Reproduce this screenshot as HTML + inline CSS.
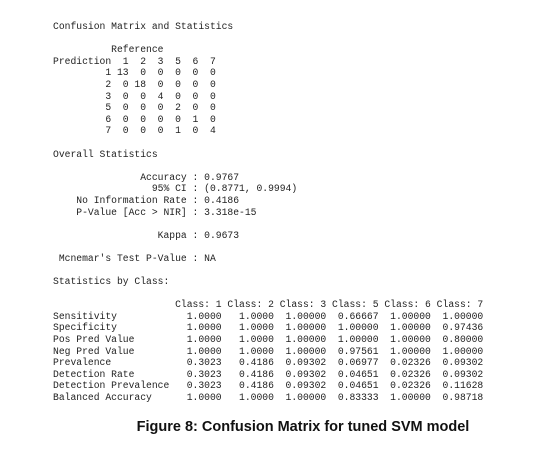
<!DOCTYPE html>
<html>
<head>
<meta charset="utf-8">
<style>
  html, body { margin: 0; padding: 0; background: #fff; }
  body { width: 560px; height: 451px; position: relative; overflow: hidden; }
  pre {
    position: absolute; left: 53px; top: 21px; margin: 0;
    font-family: "Liberation Mono", monospace; font-size: 9.7px; line-height: 11.6px;
    color: #222;
  }
  .caption {
    position: absolute; left: 0; width: 606px; text-align: center; top: 419px;
    font-family: "Liberation Sans", Arial, sans-serif; font-weight: bold; font-size: 14.5px; color: #111;
  }
</style>
</head>
<body>
<pre>Confusion Matrix and Statistics

          Reference
Prediction  1  2  3  5  6  7
         1 13  0  0  0  0  0
         2  0 18  0  0  0  0
         3  0  0  4  0  0  0
         5  0  0  0  2  0  0
         6  0  0  0  0  1  0
         7  0  0  0  1  0  4

Overall Statistics

               Accuracy : 0.9767
                 95% CI : (0.8771, 0.9994)
    No Information Rate : 0.4186
    P-Value [Acc &gt; NIR] : 3.318e-15

                  Kappa : 0.9673

 Mcnemar's Test P-Value : NA

Statistics by Class:

                     Class: 1 Class: 2 Class: 3 Class: 5 Class: 6 Class: 7
Sensitivity            1.0000   1.0000  1.00000  0.66667  1.00000  1.00000
Specificity            1.0000   1.0000  1.00000  1.00000  1.00000  0.97436
Pos Pred Value         1.0000   1.0000  1.00000  1.00000  1.00000  0.80000
Neg Pred Value         1.0000   1.0000  1.00000  0.97561  1.00000  1.00000
Prevalence             0.3023   0.4186  0.09302  0.06977  0.02326  0.09302
Detection Rate         0.3023   0.4186  0.09302  0.04651  0.02326  0.09302
Detection Prevalence   0.3023   0.4186  0.09302  0.04651  0.02326  0.11628
Balanced Accuracy      1.0000   1.0000  1.00000  0.83333  1.00000  0.98718</pre>
<div class="caption">Figure 8: Confusion Matrix for tuned SVM model</div>
</body>
</html>
